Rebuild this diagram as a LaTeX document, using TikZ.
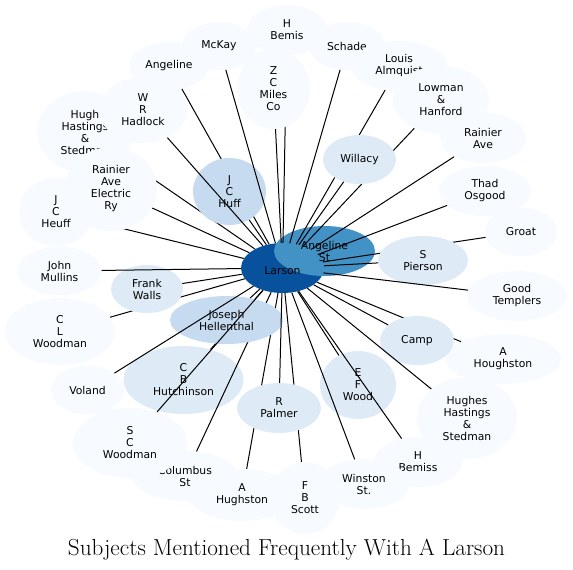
\documentclass[tikz,border=0pt]{standalone}
\usepackage{fontspec}
\usepackage{tikz}
\usetikzlibrary{shapes.geometric}
\newfontfamily\labelfont{DejaVu Sans}
\definecolor{blueA}{HTML}{F7FBFF}
\definecolor{blueB}{HTML}{DEEBF7}
\definecolor{blueC}{HTML}{C6DBEF}
\definecolor{blueD}{HTML}{4292C6}
\definecolor{blueE}{HTML}{08519C}
\pgfdeclarelayer{edgesmid}
\pgfdeclarelayer{nodestop}
\pgfdeclarelayer{edgestop}
\pgfsetlayers{main,edgesmid,nodestop,edgestop}

\begin{document}
\begin{tikzpicture}[
    x=1pt, y=-1pt,
    % One ellipse per subject, the shade tells how often it is mentioned
    subject/.style={
        ellipse,
        draw=none,
        fill=blueA,
        inner sep=0pt,
        align=center,
        text=black,
        font=\labelfont\fontsize{10.8}{12}\selectfont
    },
    radii/.style 2 args={minimum width=#1*2pt, minimum height=#2*2pt},
    link/.style={draw=black, line width=1pt}
]
    \useasboundingbox (0,0) rectangle (573,570);

    % --- OUTER RING (order matters: later ellipses cover earlier labels) ---
    \node(hbemis)[subject, radii={40}{25}] at (287,30) {H\\Bemis};
    \node(mckay)[subject, radii={37}{24}] at (219,46) {McKay};
    \node(schade)[subject, radii={38}{24}] at (347,46) {Schade};
    \node(angeline)[subject, radii={40}{24}] at (169,66) {Angeline};
    \node(louisalmquist)[subject, radii={48}{25}] at (399,66) {Louis\\Almquist};
    \node(lowman)[subject, radii={48}{34}] at (441,100) {Lowman\\\&\\Hanford};
    \node(rainierave)[subject, radii={43}{25}] at (483,138) {Rainier\\Ave};
    \node(thadosgood)[subject, radii={46}{25}] at (485,191) {Thad\\Osgood};
    \node(groat)[subject, radii={36}{24.5}] at (521,232) {Groat};
    \node(goodtemplers)[subject, radii={50}{25}] at (517,296) {Good\\Templers};
    \node(ahoughston)[subject, radii={58}{25}] at (503,359) {A\\Houghston};
    \node(hugheshastings)[subject, radii={50}{41}] at (467,418) {Hughes\\Hastings\\\&\\Stedman};
    \node(hbemiss)[subject, radii={44}{25}] at (418,462) {H\\Bemiss};
    \node(winston)[subject, radii={45}{25}] at (364,484) {Winston\\St.};
    \node(fbscott)[subject, radii={35}{36}] at (305,498) {F\\B\\Scott};
    \node(ahughston)[subject, radii={53}{26}] at (242,495) {A\\Hughston};
    \node(columbus)[subject, radii={53}{25}] at (185,476) {Columbus\\St};
    \node(scwoodman)[subject, radii={57}{35}] at (130,443) {S\\C\\Woodman};
    \node(voland)[subject, radii={36.5}{24.5}] at (87.5,390) {Voland};
    \node(clwoodman)[subject, radii={55}{33.5}] at (60,331.5) {C\\L\\Woodman};
    \node(johnmullins)[subject, radii={42}{24.5}] at (59.5,271) {John\\Mullins};
    \node(jcheuff)[subject, radii={37}{34}] at (56,212) {J\\C\\Heuff};
    \node(hughhastings)[subject, radii={48}{41}] at (85,132) {Hugh\\Hastings\\\&\\Stedman};
    \node(wrhadlock)[subject, radii={44}{33}] at (143,110) {W\\R\\Hadlock};
    \node(cbhutchinson)[subject, fill=blueB, radii={60}{34}] at (183.5,380) {C\\B\\Hutchinson};
    \node(efwood)[subject, fill=blueB, radii={38}{34}] at (358,385) {E\\F\\Wood};

    % --- CENTRE ---
    \node(larson)[subject, fill=blueE, radii={41.5}{25}] at (282.5,268) {};
    \node(angelinest)[subject, fill=blueD, radii={50.5}{25}] at (324.5,251) {Angeline\\St};

    % Inner ring sits above some of the links
    \begin{pgfonlayer}{nodestop}
        \node(larsonlabel)[subject, fill=none] at (282.5,271) {Larson};
        \node(jchuff)[subject, fill=blueC, radii={36.5}{33.5}] at (229.5,191.5) {J\\C\\Huff};
        \node(zcmiles)[subject, radii={36.5}{40}] at (273.5,89) {Z\\C\\Miles\\Co};
        \node(willacy)[subject, fill=blueB, radii={36.5}{24.5}] at (359.5,159.5) {Willacy};
        \node(spierson)[subject, fill=blueB, radii={45}{24.5}] at (423,260.5) {S\\Pierson};
        \node(camp)[subject, fill=blueB, radii={37}{24.5}] at (417,340.5) {Camp};
        \node(rpalmer)[subject, fill=blueB, radii={42}{25}] at (279,408) {R\\Palmer};
        \node(jhellenthal)[subject, fill=blueC, radii={56.5}{24}] at (226.5,320) {Joseph\\Hellenthal};
        \node(rainierelectric)[subject, radii={46}{42}] at (111,189) {Rainier\\Ave\\Electric\\Ry};
        \node(frankwalls)[subject, fill=blueB, radii={36}{24}] at (147,289) {Frank\\Walls};
    \end{pgfonlayer}

    % --- LINKS TO LARSON ---
    % hidden where an inner ellipse lies on top
    \begin{pgfonlayer}{edgesmid}
        \foreach \n in {angeline, hbemis, columbus, ahughston, fbscott, ahoughston, groat,
                        lowman, louisalmquist, hughhastings, jcheuff, clwoodman, cbhutchinson}
            \draw[link] (larson) -- (\n);
    \end{pgfonlayer}
    % drawn over everything
    \begin{pgfonlayer}{edgestop}
        \foreach \n in {mckay, schade, zcmiles, wrhadlock, jchuff, willacy, rainierave,
                        thadosgood, spierson, goodtemplers, camp, hugheshastings, hbemiss,
                        efwood, winston, rpalmer, jhellenthal, scwoodman, voland,
                        frankwalls, johnmullins, rainierelectric}
            \draw[link] (larson) -- (\n);
    \end{pgfonlayer}

    % --- TITLE ---
    \node(title)[anchor=base] at (286.5,555) {\fontsize{23.2}{26}\selectfont Subjects Mentioned Frequently With A Larson};
\end{tikzpicture}
\end{document}
